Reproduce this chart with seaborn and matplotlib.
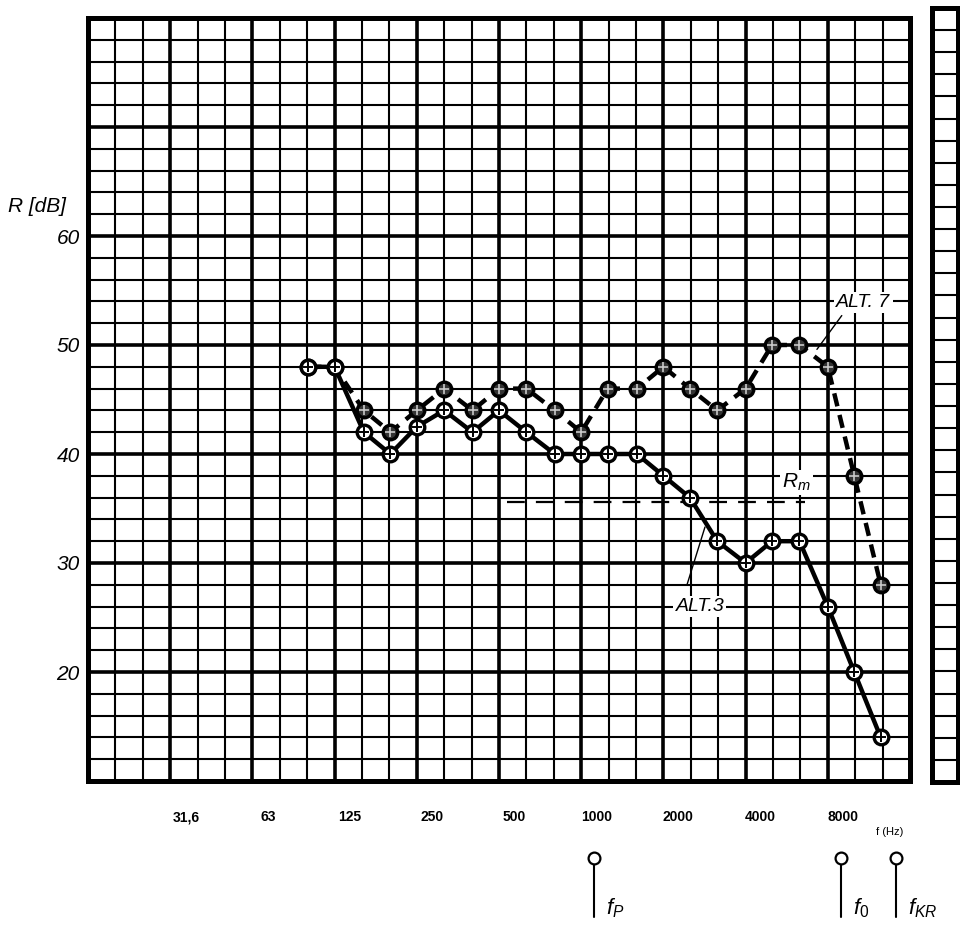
import numpy as np
import pandas as pd
import matplotlib
matplotlib.use("Agg")
import matplotlib.pyplot as plt
import matplotlib.transforms as mtransforms
import seaborn as sns

# ---------------- data ----------------
freq_hz = [100, 125, 160, 200, 250, 315, 400, 500, 630, 800, 1000, 1250,
           1600, 2000, 2500, 3150, 4000, 5000, 6300, 8000, 10000, 12500]
alt3_db = [48, 48, 42, 40, 42.5, 44, 42, 44, 42, 40, 40, 40,
           40, 38, 36, 32, 30, 32, 32, 26, 20, 14]
alt7_db = [48, 48, 44, 42, 44, 46, 44, 46, 46, 44, 42, 46,
           46, 48, 46, 44, 46, 50, 50, 48, 38, 28]
rm_db = 35.6
rm_range_hz = [536, 6600]
tick_freqs = [31.5, 63, 125, 250, 500, 1000, 2000, 4000, 8000]
tick_labels = ["31,6", "63", "125", "250", "500", "1000", "2000", "4000", "8000"]
y_major = [10, 20, 30, 40, 50, 60, 70, 80]
y_labels = ["", "20", "30", "40", "50", "60", "", ""]
marker_freqs = [1000, 8000, 12700]
marker_labels = [r"$f_P$", r"$f_0$", r"$f_{KR}$"]

# ---------------- style ----------------
sns.set_theme(style="white")
plt.rcParams["font.family"] = ["Liberation Sans", "DejaVu Sans"]
plt.rcParams["mathtext.fontset"] = "custom"
plt.rcParams["mathtext.it"] = "Liberation Sans:italic"
plt.rcParams["mathtext.rm"] = "Liberation Sans"
for k in ["text.color", "axes.labelcolor", "xtick.color", "ytick.color"]:
    plt.rcParams[k] = "black"

W, H = 960, 927
fig = plt.figure(figsize=(W / 100, H / 100), dpi=100)
fig.patch.set_facecolor("white")

def fy(py):
    return 1 - py / H

ax = fig.add_axes([88 / W, fy(781), (910 - 88) / W, (781 - 18) / H])
ax.set_facecolor("white")
ax.set_xscale("log", base=2)
ax.set_xlim(15.625, 16000)
ax.set_ylim(10, 80)

# grid (layout only)
x_major = 15.625 * 2.0 ** np.arange(0, 11)
x_minor = 15.625 * 2.0 ** (np.arange(0, 31) / 3)
ax.set_xticks(x_major)
ax.set_xticks(x_minor, minor=True)
ax.set_xticklabels([])
ax.set_yticks(y_major)
ax.set_yticks(np.arange(10, 81, 2), minor=True)
ax.set_yticklabels(y_labels, fontsize=15, fontstyle="italic", color="black")
ax.tick_params(which="both", length=0, labelbottom=False, pad=6)
ax.grid(which="minor", color="black", lw=1.5, zorder=1)
ax.grid(which="major", color="black", lw=2.6, zorder=1)
ax.set_axisbelow(True)
for s in ax.spines.values():
    s.set_linewidth(3.6)
    s.set_color("black")

# ---------------- series ----------------
df = pd.DataFrame({"f": freq_hz, "ALT3": alt3_db, "ALT7": alt7_db})

sns.lineplot(data=df, x="f", y="ALT7", ax=ax, color="black", lw=3.2,
             linestyle=(0, (3, 2)), marker="o", markersize=10.5,
             markerfacecolor="#333333", markeredgecolor="black",
             markeredgewidth=2.4, zorder=4)
sns.scatterplot(data=df, x="f", y="ALT7", ax=ax, marker="+", s=60,
                color="#c8c8c8", linewidth=1.2, zorder=5)

sns.lineplot(data=df, x="f", y="ALT3", ax=ax, color="black", lw=3.2,
             marker="o", markersize=10.5, markerfacecolor="white",
             markeredgecolor="black", markeredgewidth=2.4, zorder=6)
sns.scatterplot(data=df, x="f", y="ALT3", ax=ax, marker="+", s=60,
                color="black", linewidth=1.4, zorder=7)

# Rm line
sns.lineplot(x=rm_range_hz, y=[rm_db, rm_db], ax=ax, color="black", lw=1.6,
             linestyle=(0, (8, 5)), zorder=3)
ax.set_xlabel("")
ax.set_ylabel("")

# labels with leaders
box = dict(facecolor="white", edgecolor="none", pad=1.5)
ax.text(10800, 53.9, "ALT. 7", fontsize=14, fontstyle="italic",
        ha="center", va="center", bbox=box, zorder=8)
ax.plot([9000, 7300], [52.7, 49.6], color="black", lw=1.0, zorder=8)
ax.text(2720, 26.0, "ALT.3", fontsize=14, fontstyle="italic",
        ha="center", va="center", bbox=box, zorder=8)
ax.plot([2440, 2840], [28.0, 33.3], color="black", lw=1.0, zorder=8)
ax.text(6150, 37.4, r"$R_m$", fontsize=15, ha="center", va="center",
        bbox=box, zorder=8)

# y-axis title
fig.text(8 / W, fy(207), "R [dB]", fontsize=15, fontstyle="italic",
         ha="left", va="center", color="black")

# frequency labels (offset right of the octave lines as in the print)
off = mtransforms.ScaledTranslation(15 / 100, 0, fig.dpi_scale_trans)
trans_lab = mtransforms.blended_transform_factory(ax.transData + off, fig.transFigure)
for f, lab in zip(tick_freqs, tick_labels):
    ax.text(f, fy(817), lab, transform=trans_lab, fontsize=10,
            fontweight="bold", ha="center", va="center", color="black")
fig.text(890 / W, fy(832), "f (Hz)", fontsize=8, ha="center", va="center",
         color="black")

# frequency markers below the chart
off2 = mtransforms.ScaledTranslation(13 / 100, 0, fig.dpi_scale_trans)
trans_m = mtransforms.blended_transform_factory(ax.transData + off2, fig.transFigure)
for f, lab in zip(marker_freqs, marker_labels):
    ax.plot([f, f], [fy(865), fy(917)], transform=trans_m, color="black",
            lw=1.5, clip_on=False)
    ax.plot([f], [fy(858)], transform=trans_m, marker="o", markersize=8.5,
            markerfacecolor="white", markeredgecolor="black",
            markeredgewidth=1.6, clip_on=False)
    ax.text(f, fy(908), "  " + lab, transform=trans_m, fontsize=16,
            ha="left", va="center", color="black")

# right strip
ax2 = fig.add_axes([932 / W, fy(782), (958 - 932) / W, (782 - 8) / H])
ax2.set_facecolor("white")
ax2.set_xlim(0, 1)
ax2.set_ylim(10, 80)
ax2.set_xticks([])
ax2.set_yticks(np.arange(10, 81, 2), minor=True)
ax2.set_yticks([])
ax2.tick_params(which="both", length=0, labelleft=False)
ax2.grid(which="minor", axis="y", color="black", lw=1.5)
for s in ax2.spines.values():
    s.set_linewidth(3.6)
    s.set_color("black")

fig.savefig("out.png", dpi=100, facecolor="white")
